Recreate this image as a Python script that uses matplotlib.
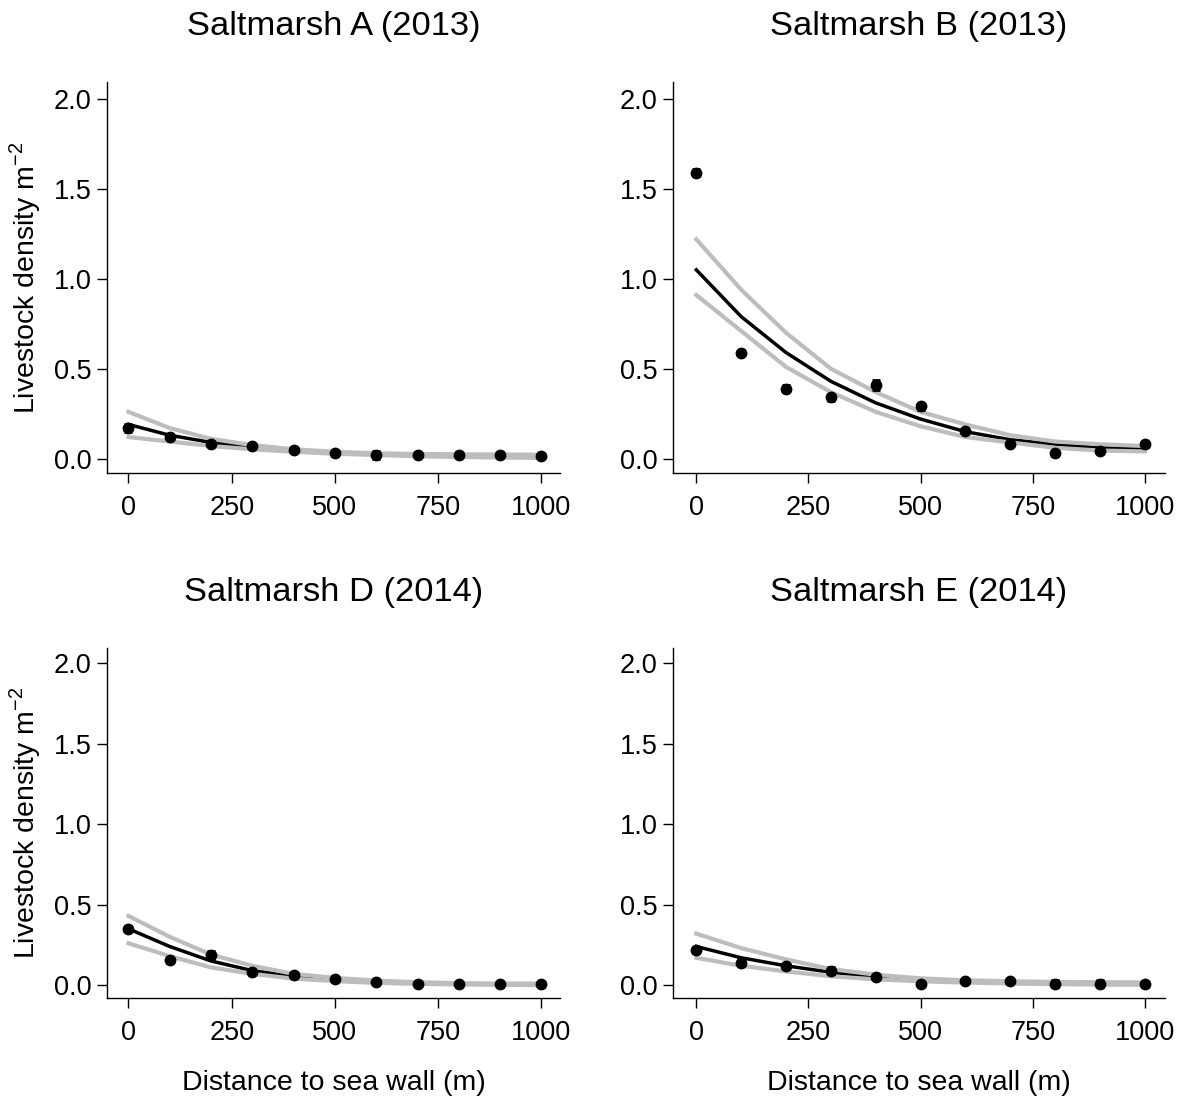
import numpy as np
import matplotlib.pyplot as plt

plt.rcParams['font.family'] = ['Liberation Sans', 'DejaVu Sans']

# distances where points and fit were read
dist = [0, 100, 200, 300, 400, 500, 600, 700, 800, 900, 1000]

titles = ["Saltmarsh A (2013)", "Saltmarsh B (2013)",
          "Saltmarsh D (2014)", "Saltmarsh E (2014)"]

# observed means
obs_a = [0.17, 0.12, 0.08, 0.07, 0.05, 0.03, 0.02, 0.02, 0.02, 0.02, 0.015]
obs_b = [1.59, 0.59, 0.39, 0.34, 0.41, 0.29, 0.155, 0.08, 0.03, 0.04, 0.08]
obs_d = [0.35, 0.155, 0.19, 0.08, 0.065, 0.035, 0.02, 0.01, 0.005, 0.005, 0.005]
obs_e = [0.22, 0.14, 0.12, 0.09, 0.05, 0.01, 0.025, 0.025, 0.01, 0.01, 0.005]

# small error bars around the points
err_a = [0.02, 0.01, 0.01, 0.01, 0.015, 0.015, 0.02, 0.015, 0.015, 0.015, 0.01]
err_b = [0.02, 0.015, 0.02, 0.02, 0.03, 0.02, 0.015, 0.01, 0.015, 0.01, 0.015]
err_d = [0.015, 0.02, 0.025, 0.015, 0.01, 0.01, 0.01, 0.01, 0.015, 0.015, 0.015]
err_e = [0.02, 0.02, 0.02, 0.02, 0.01, 0.01, 0.01, 0.01, 0.02, 0.02, 0.015]

# fitted curve and confidence limits
fit_a = [0.19, 0.13, 0.09, 0.065, 0.045, 0.032, 0.024, 0.018, 0.015, 0.013, 0.012]
up_a = [0.26, 0.17, 0.11, 0.075, 0.052, 0.038, 0.03, 0.026, 0.024, 0.023, 0.022]
lo_a = [0.12, 0.095, 0.07, 0.052, 0.038, 0.027, 0.02, 0.013, 0.009, 0.006, 0.004]

fit_b = [1.05, 0.79, 0.59, 0.43, 0.31, 0.22, 0.15, 0.105, 0.08, 0.06, 0.055]
up_b = [1.22, 0.94, 0.70, 0.50, 0.37, 0.26, 0.19, 0.13, 0.095, 0.08, 0.07]
lo_b = [0.91, 0.71, 0.51, 0.37, 0.26, 0.18, 0.12, 0.09, 0.06, 0.045, 0.04]

fit_d = [0.35, 0.24, 0.15, 0.09, 0.055, 0.035, 0.02, 0.012, 0.008, 0.005, 0.004]
up_d = [0.43, 0.30, 0.19, 0.12, 0.07, 0.045, 0.028, 0.018, 0.012, 0.01, 0.01]
lo_d = [0.26, 0.18, 0.11, 0.07, 0.04, 0.025, 0.014, 0.008, 0.004, 0.002, 0.0]

fit_e = [0.24, 0.17, 0.12, 0.08, 0.05, 0.032, 0.022, 0.016, 0.012, 0.01, 0.009]
up_e = [0.32, 0.23, 0.16, 0.10, 0.065, 0.042, 0.03, 0.024, 0.02, 0.018, 0.017]
lo_e = [0.17, 0.12, 0.085, 0.055, 0.036, 0.024, 0.016, 0.01, 0.006, 0.003, 0.002]

panels = [
    (obs_a, err_a, fit_a, up_a, lo_a),
    (obs_b, err_b, fit_b, up_b, lo_b),
    (obs_d, err_d, fit_d, up_d, lo_d),
    (obs_e, err_e, fit_e, up_e, lo_e),
]

fig = plt.figure(figsize=(11.85, 11.04), dpi=100)

W, H = 1185, 1104
# axes boxes in pixels: left, top, right, bottom
boxes = [(107, 82, 560, 473), (673, 82, 1165, 473),
         (107, 648, 560, 998), (673, 648, 1165, 998)]

for i, (box, (obs, err, fit, up, lo)) in enumerate(zip(boxes, panels)):
    l, t, r, b = box
    ax = fig.add_axes([l / W, (H - b) / H, (r - l) / W, (b - t) / H])

    ax.plot(dist, fit, color='black', lw=2.5, zorder=2)
    ax.plot(dist, up, color='#bdbdbd', lw=3, zorder=3)
    ax.plot(dist, lo, color='#bdbdbd', lw=3, zorder=3)
    ax.errorbar(dist, obs, yerr=err, fmt='o', color='black', ms=7.5,
                elinewidth=2, capsize=3, capthick=2, zorder=4)

    ax.set_xlim(-52, 1045)
    ax.set_ylim(-0.08, 2.095)
    ax.set_xticks([0, 250, 500, 750, 1000])
    ax.set_yticks([0, 0.5, 1.0, 1.5, 2.0])
    ax.set_yticklabels(['0.0', '0.5', '1.0', '1.5', '2.0'])
    ax.tick_params(labelsize=19.5, length=7, width=1, direction='out')
    ax.tick_params(axis='x', pad=9)
    ax.tick_params(axis='y', pad=4)
    for s in ['top', 'right']:
        ax.spines[s].set_visible(False)
    for s in ['left', 'bottom']:
        ax.spines[s].set_linewidth(1)
    ax.set_title(titles[i], fontsize=24.8, pad=34)
    if i % 2 == 0:
        ax.set_ylabel('Livestock density m$^{\\mathregular{-2}}$',
                      fontsize=20.5, labelpad=8)
    if i >= 2:
        ax.set_xlabel('Distance to sea wall (m)', fontsize=20.5, labelpad=17)

fig.savefig('out.png', dpi=100)
